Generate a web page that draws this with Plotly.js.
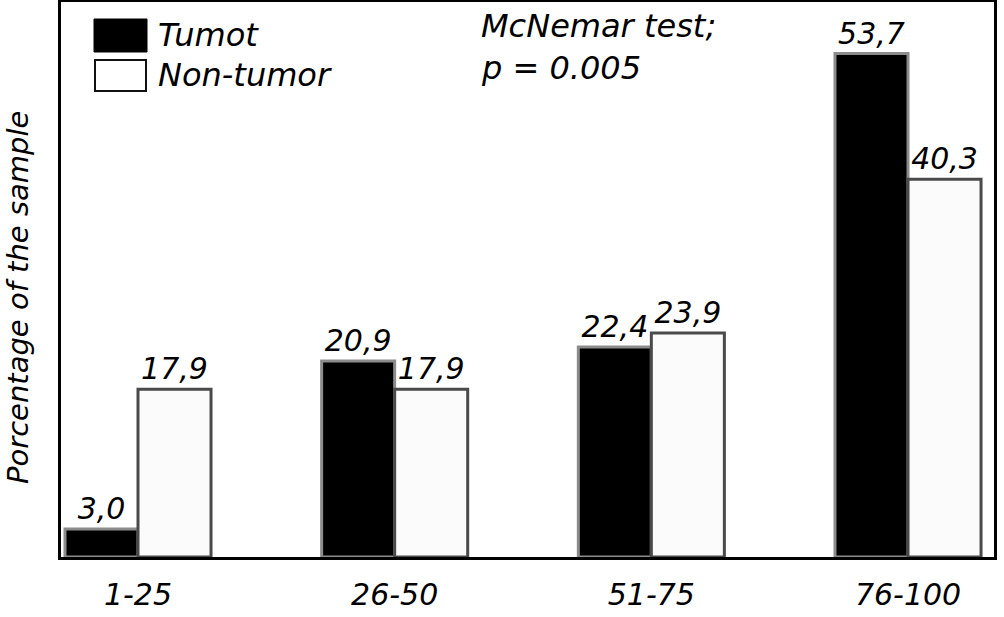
<!DOCTYPE html>
<html>
<head>
<meta charset="utf-8">
<script src="https://cdn.plot.ly/plotly-3.0.1.min.js"></script>
<style>html,body{margin:0;padding:0;background:#fff;}#chart{width:1004px;height:617px;}</style>
</head>
<body>
<div id="chart"></div>
<script>
var categories = ["1-25", "26-50", "51-75", "76-100"];
var tumorValues = [3.0, 20.9, 22.4, 53.7];
var nonTumorValues = [17.9, 17.9, 23.9, 40.3];
var seriesNames = ["Tumot", "Non-tumor"];

function fmt(v) { return v.toFixed(1).replace('.', ','); }

var FONT = "DejaVu Sans, sans-serif";
var FS = 29;
var FS_BIG = 32;
var FS_TICK = 30;

var traces = [
  {
    type: 'bar', name: seriesNames[0], x: categories, y: tumorValues,
    text: tumorValues.map(fmt), textposition: 'outside', cliponaxis: false,
    constraintext: 'none',
    textfont: {family: FONT, size: 30, color: '#000', style: 'italic'},
    marker: {color: '#000000', line: {color: '#8c8c8c', width: 3}},
    showlegend: false, hoverinfo: 'x+y'
  },
  {
    type: 'bar', name: seriesNames[1], x: categories, y: nonTumorValues,
    text: nonTumorValues.map(fmt), textposition: 'outside', cliponaxis: false,
    constraintext: 'none',
    textfont: {family: FONT, size: 30, color: '#000', style: 'italic'},
    marker: {color: '#fbfbfb', line: {color: '#4a4a4a', width: 3}},
    showlegend: false, hoverinfo: 'x+y'
  }
];

var layout = {
  width: 1004, height: 617,
  margin: {l: 61, r: 10, t: 2, b: 60, pad: 0},
  paper_bgcolor: '#ffffff', plot_bgcolor: '#ffffff',
  barmode: 'group', bargap: 0.431, bargroupgap: 0,
  font: {family: FONT, size: FS, color: '#000'},
  xaxis: {
    type: 'category', range: [-0.3, 3.335],
    showline: true, mirror: true, linecolor: '#000', linewidth: 3,
    showgrid: false, zeroline: false, ticks: '',
    tickfont: {family: FONT, size: FS_TICK, color: '#000', style: 'italic'},
    ticklabelstandoff: 9
  },
  yaxis: {
    range: [0, 59.2],
    showline: true, mirror: true, linecolor: '#000', linewidth: 3,
    showgrid: false, zeroline: false, ticks: '', showticklabels: false
  },
  shapes: [
    {type: 'rect', xref: 'paper', yref: 'paper',
     x0: (94 - 61) / 933, x1: (147 - 61) / 933,
     y0: (557 - 52) / 555, y1: (557 - 19) / 555,
     fillcolor: '#000', line: {color: '#000', width: 1}},
    {type: 'rect', xref: 'paper', yref: 'paper',
     x0: (95 - 61) / 933, x1: (146 - 61) / 933,
     y0: (557 - 91) / 555, y1: (557 - 60) / 555,
     fillcolor: '#fff', line: {color: '#111', width: 2}}
  ],
  annotations: [
    {xref: 'paper', yref: 'paper', x: (156 - 61) / 933, y: (557 - 35) / 555,
     xanchor: 'left', yanchor: 'middle', showarrow: false, text: seriesNames[0],
     font: {family: FONT, size: FS_BIG, color: '#000', style: 'italic'}},
    {xref: 'paper', yref: 'paper', x: (156 - 61) / 933, y: (557 - 75) / 555,
     xanchor: 'left', yanchor: 'middle', showarrow: false, text: seriesNames[1],
     font: {family: FONT, size: FS_BIG, color: '#000', style: 'italic'}},
    {xref: 'paper', yref: 'paper', x: (479 - 61) / 933, y: (557 - 26) / 555,
     xanchor: 'left', yanchor: 'middle', showarrow: false, text: 'McNemar test;',
     font: {family: FONT, size: FS_BIG, color: '#000', style: 'italic'}},
    {xref: 'paper', yref: 'paper', x: (479 - 61) / 933, y: (557 - 68) / 555,
     xanchor: 'left', yanchor: 'middle', showarrow: false, text: 'p = 0.005',
     font: {family: FONT, size: FS_BIG, color: '#000', style: 'italic'}},
    {xref: 'paper', yref: 'paper', x: (18 - 61) / 933, y: (557 - 298) / 555,
     xanchor: 'center', yanchor: 'middle', showarrow: false, textangle: -90,
     text: 'Porcentage of the sample',
     font: {family: FONT, size: FS, color: '#000', style: 'italic'}}
  ]
};

Plotly.newPlot('chart', traces, layout, {displayModeBar: false, staticPlot: true});
</script>
</body>
</html>
